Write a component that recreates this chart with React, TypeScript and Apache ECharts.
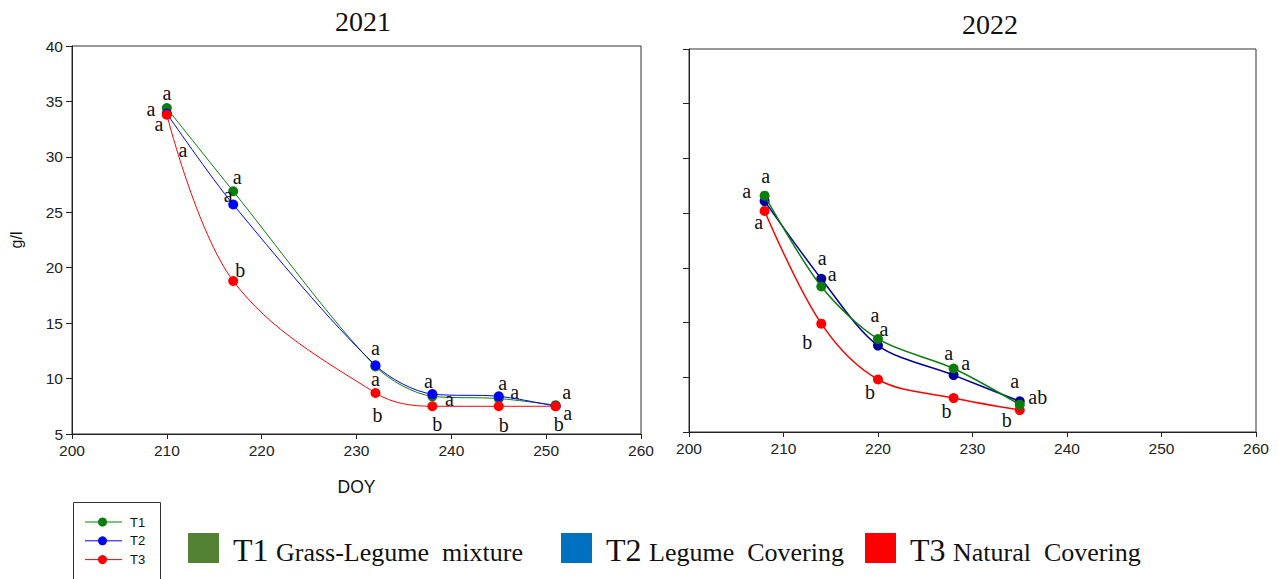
import React, { useEffect, useRef } from "react";
import * as echarts from "echarts";

// ---------- data ----------
const xTicks = [200, 210, 220, 230, 240, 250, 260];
const yTicks = [5, 10, 15, 20, 25, 30, 35, 40];

const doy2021 = [210, 217, 232, 238, 245, 251];
const t1_2021 = [34.4, 26.9, 11.1, 8.4, 8.2, 7.6];
const t2_2021 = [33.9, 25.7, 11.2, 8.6, 8.4, 7.5];
const t3_2021 = [33.8, 18.8, 8.7, 7.5, 7.5, 7.5];
const l1_2021 = ["a", "a", "a", "a", "a", "a"];
const l2_2021 = ["a", "a", "a", "a", "a", "a"];
const l3_2021 = ["a", "b", "b", "b", "b", "b"];

const doy2022 = [208, 214, 220, 228, 235];
const t1_2022 = [26.6, 18.3, 13.5, 10.8, 7.5];
const t2_2022 = [26.1, 19.0, 12.9, 10.2, 7.8];
const t3_2022 = [25.2, 14.9, 9.8, 8.1, 7.0];
const l1_2022 = ["a", "a", "a", "a", "ab"];
const l2_2022 = ["a", "a", "a", "a", "a"];
const l3_2022 = ["a", "b", "b", "b", "b"];

const seriesNames = ["T1", "T2", "T3"];
const legendCodes = ["T1", "T2", "T3"];
const legendDescs = ["Grass-Legume  mixture", "Legume  Covering", "Natural  Covering"];

// ---------- label placement (pixels relative to point) ----------
const off1_2021 = [[0, -13], [4, -12], [0, 15], [17, 5], [16, -5], [11, -11]];
const off2_2021 = [[-16, -3], [-5, -8], [0, -15], [-4, -11], [4, -11], [12, 9]];
const off3_2021 = [[-8, 11], [7, -11], [2, 22], [5, 18], [5, 19], [3, 18]];
const off1_2022 = [[1, -18], [11, -10], [-3, -22], [-5, -14], [18, -6]];
const off2_2022 = [[-18, -8], [1, -19], [6, -15], [12, -10], [-5, -18]];
const off3_2022 = [[-6, 13], [-14, 18], [-8, 13], [-7, 13], [-13, 10]];

const GREEN = "#0a7d0a";
const BLUE21 = "#0000ff";
const BLUE22 = "#00009c";
const RED = "#ff0000";
const SERIF = "'Liberation Serif', 'Times New Roman', serif";
const SANS = "'Liberation Sans', Arial, sans-serif";

function mkData(xs: number[], ys: number[], letters: string[], offs: number[][]) {
  return xs.map((x, i) => ({
    value: [x, ys[i]],
    label: {
      show: true,
      formatter: letters[i],
      position: "inside",
      offset: [offs[i][0], offs[i][1] + (letters[i] === "b" ? 0 : -2)],
      fontFamily: SERIF,
      fontSize: 20,
      color: "#111",
    },
  }));
}

function mkSeries(
  name: string,
  idx: number,
  color: string,
  xs: number[],
  ys: number[],
  letters: string[],
  offs: number[][],
  smooth: number,
  width: number,
  z: number
) {
  return {
    name,
    type: "line",
    xAxisIndex: idx,
    yAxisIndex: idx,
    data: mkData(xs, ys, letters, offs),
    smooth,
    symbol: "circle",
    symbolSize: 10,
    itemStyle: { color },
    lineStyle: { color, width },
    z,
  };
}

function axisX(gridIndex: number, showName: boolean) {
  return {
    type: "value",
    gridIndex,
    min: 200,
    max: 260,
    interval: 10,
    name: showName ? "DOY" : "",
    nameLocation: "middle",
    nameGap: 44,
    nameTextStyle: { fontFamily: SANS, fontSize: 17.5, color: "#111" },
    axisLine: { show: true, lineStyle: { color: "#222", width: 1 } },
    axisTick: { show: true, length: 5, lineStyle: { color: "#222" } },
    axisLabel: {
      fontFamily: SANS,
      fontSize: 15.5,
      color: "#222",
      margin: 8,
      formatter: (v: number) => (xTicks.includes(v) ? String(v) : ""),
    },
    splitLine: { show: false },
  };
}

function axisY(gridIndex: number, showLabels: boolean) {
  return {
    type: "value",
    gridIndex,
    min: 5,
    max: 40,
    interval: 5,
    name: showLabels ? "g/l" : "",
    nameLocation: "middle",
    nameGap: 48,
    nameTextStyle: { fontFamily: SANS, fontSize: 16, color: "#111" },
    axisLine: { show: true, lineStyle: { color: "#222", width: 1 } },
    axisTick: { show: true, length: 6, lineStyle: { color: "#222" } },
    axisLabel: {
      show: showLabels,
      fontFamily: SANS,
      fontSize: 15.5,
      color: "#222",
      margin: 9,
      formatter: (v: number) => (yTicks.includes(v) ? String(v) : ""),
    },
    splitLine: { show: false },
  };
}

export default function App() {
  const ref = useRef<HTMLDivElement>(null);
  useEffect(() => {
    if (!ref.current) return;
    const chart = echarts.init(ref.current, null, { renderer: "svg" });
    const legendColors = ["#548235", "#0070c0", "#ff0000"];
    const squareX = [188, 561, 865];
    const lineColors = [GREEN, BLUE21, RED];
    const graphic: any[] = [
      // small legend box
      {
        type: "rect",
        shape: { x: 73.5, y: 502.5, width: 87, height: 90 },
        style: { fill: "#fff", stroke: "#333", lineWidth: 1 },
      },
      // extra letter near 2021 T3 first segment
      {
        type: "text",
        x: 183,
        y: 150,
        style: {
          text: "a",
          font: `20px ${SERIF}`,
          fill: "#111",
          align: "center",
          verticalAlign: "middle",
        },
      },
    ];
    seriesNames.forEach((n, i) => {
      const y = 522 + i * 18.8;
      graphic.push({
        type: "line",
        shape: { x1: 85, y1: y, x2: 122, y2: y },
        style: { stroke: lineColors[i], lineWidth: 1 },
      });
      graphic.push({
        type: "circle",
        shape: { cx: 102.5, cy: y, r: 4.5 },
        style: { fill: lineColors[i] },
      });
      graphic.push({
        type: "text",
        x: 130,
        y,
        style: {
          text: n,
          font: `13px ${SANS}`,
          fill: "#111",
          verticalAlign: "middle",
        },
      });
      graphic.push({
        type: "rect",
        shape: { x: squareX[i], y: 533, width: 31, height: 30 },
        style: { fill: legendColors[i] },
      });
      graphic.push({
        type: "text",
        x: squareX[i] + 45,
        y: 566,
        style: {
          text: legendCodes[i],
          font: `32px ${SERIF}`,
          fill: "#111",
          verticalAlign: "bottom",
        },
      });
      graphic.push({
        type: "text",
        x: squareX[i] + 88,
        y: 565,
        style: {
          text: legendDescs[i],
          font: `26px ${SERIF}`,
          fill: "#111",
          verticalAlign: "bottom",
        },
      });
    });

    chart.setOption({
      animation: false,
      backgroundColor: "#fff",
      title: [
        {
          text: "2021",
          left: 358,
          top: 2,
          textAlign: "center",
          textStyle: { fontFamily: SERIF, fontSize: 28, fontWeight: "normal", color: "#111" },
        },
        {
          text: "2022",
          left: 985,
          top: 5,
          textAlign: "center",
          textStyle: { fontFamily: SERIF, fontSize: 28, fontWeight: "normal", color: "#111" },
        },
      ],
      grid: [
        { left: 72, top: 46, width: 569, height: 388, show: true, borderColor: "#333", borderWidth: 1, backgroundColor: "transparent" },
        { left: 689, top: 49, width: 567, height: 383, show: true, borderColor: "#333", borderWidth: 1, backgroundColor: "transparent" },
      ],
      xAxis: [axisX(0, true), axisX(1, false)],
      yAxis: [axisY(0, true), axisY(1, false)],
      series: [
        mkSeries("T1", 0, GREEN, doy2021, t1_2021, l1_2021, off1_2021, 0.3, 1, 2),
        mkSeries("T2", 0, BLUE21, doy2021, t2_2021, l2_2021, off2_2021, 0.3, 1, 3),
        mkSeries("T3", 0, RED, doy2021, t3_2021, l3_2021, off3_2021, 0.35, 1, 4),
        mkSeries("T3", 1, RED, doy2022, t3_2022, l3_2022, off3_2022, 0.35, 1.5, 2),
        mkSeries("T2", 1, BLUE22, doy2022, t2_2022, l2_2022, off2_2022, 0.3, 1.5, 3),
        mkSeries("T1", 1, GREEN, doy2022, t1_2022, l1_2022, off1_2022, 0.3, 1.5, 4),
      ],
      graphic,
    });
    return () => chart.dispose();
  }, []);
  return (
    <div
      ref={ref}
      style={{ position: "fixed", left: 0, top: 0, width: 1279, height: 579, background: "#fff" }}
    />
  );
}
